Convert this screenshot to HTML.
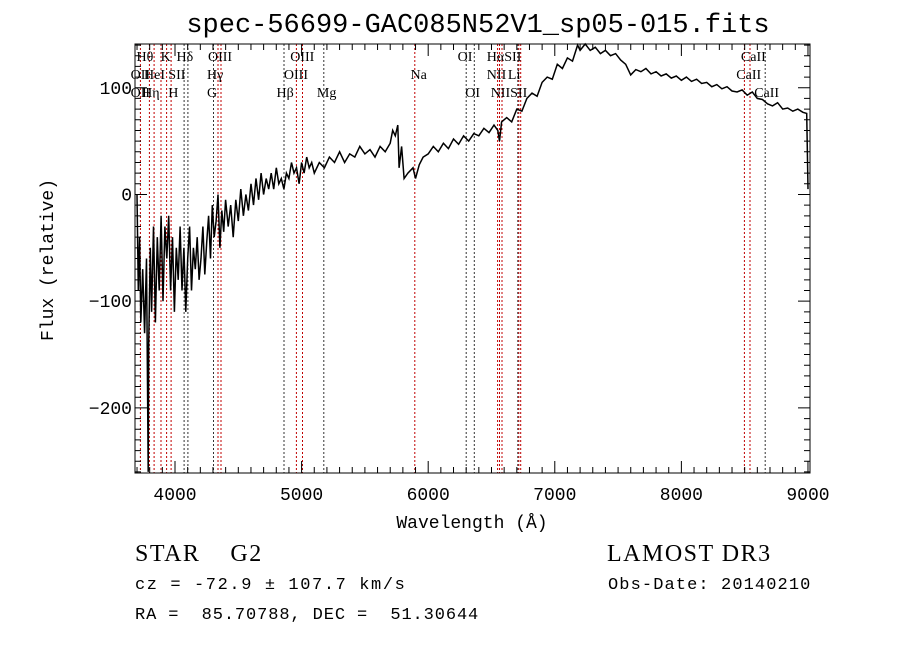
<!DOCTYPE html>
<html><head><meta charset="utf-8"><style>
html,body{margin:0;padding:0;background:#fff;}
svg text{font-family:"Liberation Mono",monospace;fill:#000;}
.lbl{font-family:"Liberation Serif",serif;font-size:14px;}
.foot{font-family:"Liberation Serif",serif;font-size:24px;letter-spacing:1.5px;}
</style></head><body>
<svg id="chart" width="900" height="649" xmlns="http://www.w3.org/2000/svg">
<rect width="900" height="649" fill="#fff"/>
<text x="478" y="32" font-size="27" text-anchor="middle">spec-56699-GAC085N52V1_sp05-015.fits</text>
<g id="lines"></g>
<g id="spec"></g>
<g id="axes"></g>
<text x="472" y="528" font-size="18" text-anchor="middle">Wavelength (Å)</text>
<text transform="translate(53,260) rotate(-90)" font-size="18" text-anchor="middle">Flux (relative)</text>
<text class="foot" x="135" y="561" xml:space="preserve">STAR    G2</text>
<text class="foot" x="607" y="561">LAMOST DR3</text>
<text x="135" y="589" font-size="17" letter-spacing="1.6" xml:space="preserve">cz = -72.9 ± 107.7 km/s</text>
<text x="608" y="589" font-size="17" letter-spacing="1.1">Obs-Date: 20140210</text>
<text x="135" y="619" font-size="17" letter-spacing="0.9" xml:space="preserve">RA =  85.70788, DEC =  51.30644</text>
</svg>
<script>
const wavelengths=[3700,3710,3720,3730,3745,3760,3775,3788,3792,3805,3815,3830,3845,3860,3875,3890,3905,3920,3935,3950,3965,3980,3995,4010,4025,4040,4055,4070,4085,4100,4115,4130,4145,4160,4175,4190,4205,4220,4235,4250,4265,4280,4295,4310,4325,4340,4355,4370,4385,4400,4420,4440,4460,4480,4500,4520,4540,4560,4580,4600,4620,4640,4660,4680,4700,4720,4740,4760,4780,4800,4820,4840,4860,4880,4900,4920,4940,4960,4980,5000,5020,5040,5060,5080,5100,5140,5180,5220,5260,5300,5340,5380,5420,5460,5500,5540,5580,5620,5660,5700,5720,5740,5760,5770,5790,5810,5840,5880,5900,5930,5960,6000,6040,6080,6120,6160,6200,6240,6280,6320,6360,6400,6440,6480,6520,6550,6563,6580,6620,6660,6700,6740,6780,6820,6860,6900,6940,6980,7020,7060,7100,7140,7180,7200,7240,7280,7320,7360,7400,7440,7480,7520,7560,7600,7640,7680,7720,7760,7800,7840,7880,7920,7960,8000,8040,8080,8120,8160,8200,8240,8280,8320,8360,8400,8440,8480,8520,8560,8600,8640,8680,8720,8760,8800,8840,8880,8920,8960,8990,9000];
const fluxValues=[0,-90,-40,-120,-70,-130,-60,-260,-140,-50,-110,-30,-120,-40,-90,-20,-100,-30,-60,-20,-90,-40,-110,-50,-80,-30,-90,-50,-110,-60,-30,-90,-50,-70,-40,-80,-60,-30,-75,-45,-20,-60,-10,-40,-25,0,-50,-15,-35,-5,-30,-10,-40,-5,-25,5,-20,0,-15,10,-10,15,-5,20,0,15,5,20,5,25,10,15,5,20,15,30,20,25,10,30,20,35,25,30,20,30,25,35,30,40,30,38,35,45,38,42,35,45,40,48,60,55,65,25,45,15,20,25,15,28,35,38,45,40,48,43,52,47,55,50,57,55,62,58,65,60,50,68,72,68,80,78,90,95,92,105,110,108,122,118,128,125,140,135,143,135,138,132,135,130,132,126,122,112,117,115,118,113,115,111,113,109,111,107,110,106,108,104,105,101,103,99,101,97,96,98,93,96,90,89,85,83,86,80,81,78,80,77,76,5];
const lineWl=[3727,3798,3835,3889,3934,3969,4072,4102,4304,4340,4363,4861,4959,5007,5175,5894,6300,6364,6548,6563,6583,6708,6716,6731,8498,8542,8662];
const lineRed=[1,1,1,1,1,1,0,0,0,1,1,0,1,1,0,1,0,0,1,1,1,0,1,1,1,1,0];
const labelText=["Hθ","K","Hδ","OIII","OIII","OI","HαSII","CaII","OII","HeI","SII","Hγ","OIII","Na","NII","Li","CaII","OII","Hη","H","G","Hβ","Mg","OI","NIISII","CaII"];
const labelWl=[3696,3886,4012,4261,4910,6232,6463,8470,3649,3755,3947,4253,4860,5860,6463,6630,8434,3649,3740,3946,4253,4802,5121,6293,6494,8575];
const labelRow=[0,0,0,0,0,0,0,0,1,1,1,1,1,1,1,1,1,2,2,2,2,2,2,2,2,2];
const yTicks=[-200,-100,0,100];
const xTicks=[4000,5000,6000,7000,8000,9000];
const X0=3684,X1=9016,Y0=-261,Y1=141,L=135,R=810,T=44,B=473;
const xs=w=>L+(w-X0)*(R-L)/(X1-X0);
const ys=f=>B-(f-Y0)*(B-T)/(Y1-Y0);
const NS="http://www.w3.org/2000/svg";
function mk(tag,parent){const e=document.createElementNS(NS,tag);document.getElementById(parent).appendChild(e);return e;}
lineWl.forEach((w,i)=>{const l=mk('line','lines');


const x=xs(w).toFixed(1);l.setAttribute('x1',x);l.setAttribute('x2',x);l.setAttribute('y1',T);l.setAttribute('y2',B);
l.setAttribute('stroke',lineRed[i]?'#c00000':'#333');l.setAttribute('stroke-width','1');l.setAttribute('stroke-dasharray','2,2');});
labelText.forEach((t,i)=>{const e=mk('text','lines');


e.setAttribute('class','lbl');e.setAttribute('x',xs(labelWl[i]).toFixed(1));e.setAttribute('y',61+labelRow[i]*18);e.textContent=t;});
const p=mk('polyline','spec');


p.setAttribute('points',wavelengths.map((w,i)=>xs(w).toFixed(1)+','+Math.max(T,Math.min(B,ys(fluxValues[i]))).toFixed(1)).join(' '));
p.setAttribute('fill','none');p.setAttribute('stroke','#000');p.setAttribute('stroke-width','1.5');
const box=mk('rect','axes');


box.setAttribute('x',L);box.setAttribute('y',T);box.setAttribute('width',R-L);box.setAttribute('height',B-T);box.setAttribute('fill','none');box.setAttribute('stroke','#000');
let d='';
for(let w=3700;w<=9000;w+=100){const x=xs(w);const len=(w%1000===0)?12:6;d+=`M${x},${B}v-${len}M${x},${T}v${len}`;}
for(let f=-260;f<=140;f+=10){const y=ys(f);const len=(f%100===0)?12:6;d+=`M${L},${y}h${len}M${R},${y}h-${len}`;}
const tk=mk('path','axes');


tk.setAttribute('d',d);tk.setAttribute('stroke','#000');tk.setAttribute('stroke-width','1');
xTicks.forEach(v=>{const e=mk('text','axes');


e.setAttribute('x',xs(v));e.setAttribute('y',B+27);e.setAttribute('font-size','18');e.setAttribute('text-anchor','middle');e.textContent=v;});
yTicks.forEach(v=>{const e=mk('text','axes');


e.setAttribute('x',L-3);e.setAttribute('y',ys(v)+6);e.setAttribute('font-size','18');e.setAttribute('text-anchor','end');e.textContent=v===0?'0':(v<0?'−'+(-v):v);});
</script>
</body></html>
